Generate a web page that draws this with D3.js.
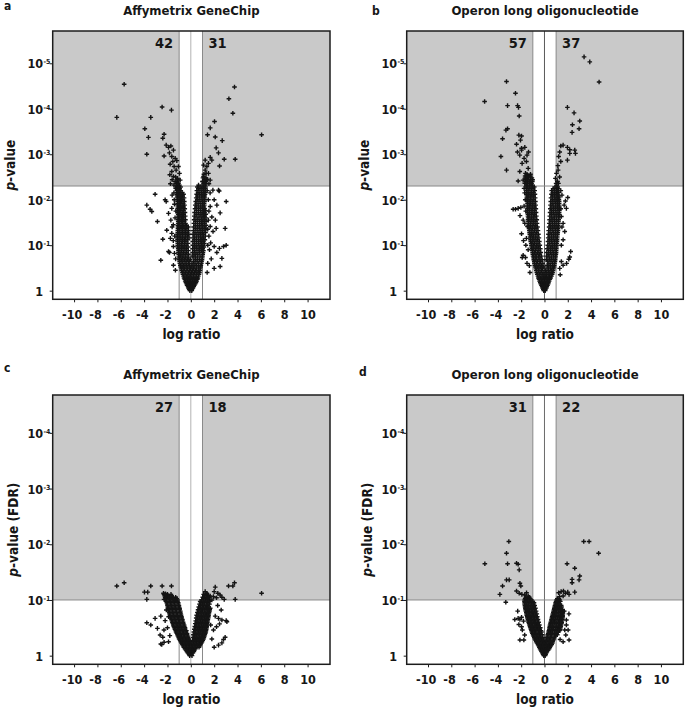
<!DOCTYPE html>
<html>
<head>
<meta charset="utf-8">
<script src="https://cdn.jsdelivr.net/npm/d3@7"></script>
<style>
    body { margin: 0; background: #fff; }
    svg text { font-family: "DejaVu Sans Condensed", "DejaVu Sans", sans-serif; font-weight: bold; fill: #161616; }
</style>
</head>
<body>
<div id="chart"></div>
<script>
width = 685;
height = 710;

//////// Data ////////
const panelLetters = ['a', 'b', 'c', 'd'];
const panelTitles = ['Affymetrix GeneChip', 'Operon long oligonucleotide', 'Affymetrix GeneChip', 'Operon long oligonucleotide'];
const yAxisTitles = ['-value', '-value', '-value (FDR)', '-value (FDR)'];
const downCounts = [42, 57, 27, 31];
const upCounts = [31, 37, 18, 22];
const pCutoffs = [0.005, 0.005, 0.1, 0.1];
const ratioCutoff = 1;
const xTicks = [-10, -8, -6, -4, -2, 0, 2, 4, 6, 8, 10];
const rawTicks = [0, 1, 2, 3, 4, 5];   // -log10 p
const fdrTicks = [0, 1, 2, 3, 4];

// dense part of each cloud: [ -log10 p, [log ratios] ]
const affyRawCore = [
    [0.00, [-0.08, 0.08]],
    [0.06, [-0.2, 0.0, 0.18]],
    [0.12, [-0.32, -0.1, 0.12, 0.3]],
    [0.18, [-0.42, -0.2, 0.02, 0.24, 0.44]],
    [0.25, [-0.52, -0.3, -0.08, 0.14, 0.36, 0.56]],
    [0.32, [-0.62, -0.38, -0.14, 0.1, 0.36, 0.64]],
    [0.40, [-0.72, -0.46, -0.2, 0.06, 0.3, 0.52, 0.74]],
    [0.48, [-0.82, -0.56, -0.3, -0.04, 0.22, 0.48, 0.8]],
    [0.56, [-0.9, -0.62, -0.36, -0.1, 0.2, 0.5, 0.86]],
    [0.64, [-0.96, -0.68, -0.4, -0.14, 0.24, 0.54, 0.92]],
    [0.72, [-1.0, -0.72, -0.44, -0.18, 0.26, 0.58, 0.98]],
    [0.80, [-1.04, -0.76, -0.48, -0.2, 0.28, 0.6, 1.02]],
    [0.88, [-1.06, -0.78, -0.5, -0.22, 0.3, 0.62, 0.9, 1.08]],
    [0.96, [-1.1, -0.8, -0.52, -0.24, 0.3, 0.62, 0.9, 1.12]],
    [1.04, [-1.12, -0.82, -0.54, -0.26, 0.32, 0.64, 0.92, 1.16]],
    [1.12, [-1.14, -0.84, -0.56, -0.28, 0.32, 0.66, 0.94, 1.2]],
    [1.20, [-1.14, -0.86, -0.58, -0.3, 0.34, 0.68, 0.96, 1.24]],
    [1.28, [-1.12, -0.84, -0.58, -0.32, 0.36, 0.7, 0.98, 1.26]],
    [1.36, [-1.1, -0.84, -0.58, -0.34, 0.38, 0.72, 1.0, 1.28]],
    [1.44, [-1.1, -0.84, -0.6, -0.36, 0.4, 0.74, 1.02, 1.3]],
    [1.52, [-1.08, -0.82, -0.58, 0.42, 0.76, 1.04, 1.3]],
    [1.60, [-1.08, -0.82, -0.6, 0.44, 0.78, 1.06, 1.3]],
    [1.68, [-1.08, -0.84, -0.62, 0.46, 0.8, 1.08, 1.28]],
    [1.76, [-1.1, -0.86, -0.64, 0.48, 0.82, 1.1, 1.26]],
    [1.84, [-1.1, -0.86, -0.64, 0.5, 0.84, 1.12]],
    [1.92, [-1.12, -0.88, -0.66, 0.52, 0.86, 1.14]],
    [2.00, [-1.14, -0.9, -0.68, 0.55, 0.88, 1.16]],
    [2.08, [-1.16, -0.92, -0.7, 0.58, 0.9, 1.18]],
    [2.16, [-1.18, -0.94, -0.74, 0.62, 0.92, 1.2]],
    [2.24, [-1.2, -0.96, 0.64, 0.94, 1.22]],
    [2.32, [-1.22, -0.98, 0.66, 0.96, 1.24]],
    [2.40, [-1.18, 1.0, 1.28]],
    [2.48, [1.04, 1.3]],
    [2.56, [1.12]],
    [0.03, [-0.14, 0.1]],
    [0.09, [-0.24, -0.05, 0.08, 0.25]],
    [0.15, [-0.36, -0.15, 0.05, 0.22, 0.38]],
    [0.21, [-0.48, -0.28, -0.06, 0.14, 0.34, 0.5]],
    [0.28, [-0.58, -0.36, -0.2, 0.02, 0.24, 0.46, 0.6]],
    [0.36, [-0.68, -0.5, -0.26, -0.02, 0.22, 0.48, 0.7]],
    [0.44, [-0.78, -0.6, -0.34, -0.1, 0.14, 0.4, 0.64, 0.78]],
    [0.52, [-0.86, -0.68, -0.42, -0.16, 0.08, 0.34, 0.64, 0.84]],
    [0.60, [-0.94, -0.76, -0.5, -0.22, 0.1, 0.36, 0.68, 0.9]],
    [0.68, [-0.98, -0.82, -0.56, -0.28, -0.04, 0.4, 0.74, 0.96]],
    [0.76, [-1.02, -0.88, -0.6, -0.32, 0.12, 0.42, 0.78, 1.0]],
    [0.84, [-1.06, -0.92, -0.64, -0.36, 0.16, 0.44, 0.76, 1.04]],
    [0.92, [-1.08, -0.94, -0.66, -0.38, 0.16, 0.46, 0.76, 1.02]],
    [1.00, [-1.12, -0.96, -0.68, -0.4, 0.18, 0.46, 0.78, 1.04]],
    [1.08, [-1.14, -0.98, -0.7, -0.42, 0.18, 0.48, 0.8, 1.06]],
    [1.16, [-1.16, -1.0, -0.72, -0.44, -0.16, 0.2, 0.5, 0.82, 1.08]],
    [1.24, [-1.14, -1.0, -0.72, -0.44, -0.18, 0.2, 0.52, 0.84, 1.1]],
    [1.32, [-1.12, -0.98, -0.72, -0.46, -0.2, 0.22, 0.54, 0.86, 1.14]],
    [1.40, [-1.1, -0.96, -0.72, -0.48, -0.22, 0.24, 0.56, 0.88, 1.16]],
    [1.48, [-1.08, -0.96, -0.72, -0.46, 0.26, 0.58, 0.9, 1.16]],
    [1.56, [-1.08, -0.94, -0.7, -0.46, 0.28, 0.6, 0.92, 1.18]],
    [1.64, [-1.08, -0.96, -0.72, -0.48, 0.3, 0.62, 0.94, 1.18]],
    [1.72, [-1.1, -0.98, -0.74, -0.5, 0.32, 0.64, 0.96, 1.16]],
    [1.80, [-1.12, -0.98, -0.76, -0.52, 0.36, 0.66, 0.98, 1.18]],
    [1.88, [-1.12, -1.0, -0.76, -0.54, 0.38, 0.68, 1.0, 1.16]],
    [1.96, [-1.14, -1.0, -0.78, -0.56, 0.42, 0.7, 1.02, 1.18]],
    [2.04, [-1.16, -1.02, -0.8, -0.58, 0.46, 0.72, 1.04, 1.2]],
    [2.12, [-1.18, -1.06, -0.84, -0.62, 0.5, 0.76, 1.06, 1.22]],
    [2.20, [-1.2, -1.08, -0.86, 0.52, 0.78, 1.08, 1.24]],
    [2.28, [-1.22, -1.1, -0.88, 0.56, 0.8, 1.1, 1.26]],
    [2.36, [-1.24, -1.1, 1.12, 1.3]],
    [2.44, [-1.14, 1.16, 1.32]]
];
// scattered genes: [log ratio, -log10 p]
const affyRawSpread = [
    [-5.71, 4.54], [-6.34, 3.81], [-2.46, 4.04], [-1.66, 3.97], [-3.43, 3.81], [-3.94, 3.56], [-3.63, 3.37],
    [-3.77, 3.0], [-2.29, 3.44], [-2.4, 3.35], [-2.11, 3.2], [-1.91, 3.15], [-1.71, 3.18], [-1.49, 3.09],
    [-2.29, 2.96], [-1.83, 3.03], [-1.63, 2.95], [-1.34, 2.91], [-1.54, 2.84], [-1.2, 2.86], [-1.77, 2.78],
    [-1.43, 2.73], [-1.06, 2.73], [-1.26, 2.65], [-1.63, 2.62], [-0.97, 2.58], [-1.49, 2.51], [-1.14, 2.47],
    [-0.91, 2.43], [-1.34, 2.4], [-1.06, 2.36], [-1.8, 2.55], [-1.6, 2.44], [-1.45, 2.32], [-1.3, 2.5], [-1.75, 2.35],
    [3.74, 4.48], [3.26, 4.22], [3.6, 3.9], [2.03, 3.72], [1.66, 3.58], [1.43, 3.43], [2.09, 3.38], [2.69, 3.3],
    [6.06, 3.43], [2.17, 3.14], [2.37, 3.03], [2.86, 2.89], [3.8, 2.89], [1.8, 2.87], [1.66, 2.93], [1.51, 2.8],
    [2.46, 2.74], [1.37, 2.73], [1.23, 2.65], [1.31, 2.58], [1.09, 2.51], [1.51, 2.58], [1.66, 2.43], [1.23, 2.87],
    [1.09, 2.76], [1.4, 2.45], [1.2, 2.38], [1.03, 2.4], [1.55, 2.35],
    [-3.06, 2.12], [-3.77, 1.88], [-2.2, 2.0], [-2.11, 1.96], [-3.49, 1.79], [-3.34, 1.74], [-2.86, 1.52],
    [-1.63, 1.81], [-1.91, 1.7], [-1.71, 1.55], [-1.5, 1.45], [-2.06, 1.33], [-1.63, 1.26], [-2.4, 1.13],
    [-1.91, 0.86], [-1.49, 0.97], [-1.4, 0.82], [-2.57, 0.67], [-1.49, 0.56], [-1.83, 0.84], [-1.35, 1.6],
    [-1.4, 1.9], [-1.45, 2.15], [-1.6, 2.1], [-1.3, 0.7], [-1.38, 1.2], [-1.5, 1.1], [-1.75, 1.15], [-1.42, 2.0],
    [-1.3, 2.25], [-1.28, 1.75], [-1.32, 0.45], [-1.6, 1.4],
    [2.43, 2.19], [1.89, 2.21], [2.37, 2.21], [2.0, 2.0], [2.23, 1.88], [3.03, 1.96], [2.51, 1.71], [1.66, 1.85],
    [1.8, 1.62], [1.5, 1.55], [2.17, 1.37], [1.66, 1.41], [1.9, 1.3], [3.03, 1.0], [2.8, 0.97], [2.45, 0.93],
    [2.0, 0.97], [2.66, 0.71], [2.23, 0.84], [2.0, 0.49], [2.51, 0.53], [2.94, 1.37], [1.55, 1.2], [1.6, 0.9],
    [1.45, 0.6], [1.7, 1.05], [1.5, 2.0], [1.55, 1.75], [1.45, 1.35], [1.75, 0.7], [2.1, 1.55], [1.4, 2.2],
    [1.45, 1.0], [1.4, 0.4], [1.65, 2.15]
];

const operonRawCore = [
    [0.00, [-0.06, 0.06]],
    [0.06, [-0.16, 0.0, 0.16]],
    [0.12, [-0.26, -0.08, 0.1, 0.26]],
    [0.18, [-0.36, -0.14, 0.08, 0.34]],
    [0.25, [-0.46, -0.22, 0.02, 0.24, 0.46]],
    [0.32, [-0.56, -0.3, -0.06, 0.18, 0.42, 0.6]],
    [0.40, [-0.66, -0.38, -0.12, 0.2, 0.46, 0.7]],
    [0.48, [-0.74, -0.46, -0.18, 0.22, 0.5, 0.78]],
    [0.56, [-0.82, -0.54, -0.26, 0.24, 0.52, 0.84]],
    [0.64, [-0.88, -0.6, -0.32, 0.28, 0.56, 0.9]],
    [0.72, [-0.94, -0.66, -0.38, 0.3, 0.6, 0.94]],
    [0.80, [-1.0, -0.72, -0.44, 0.32, 0.64, 0.98]],
    [0.88, [-1.04, -0.76, -0.48, 0.36, 0.66, 1.0]],
    [0.96, [-1.1, -0.8, -0.52, 0.38, 0.68, 1.02]],
    [1.04, [-1.14, -0.86, -0.56, 0.42, 0.72, 1.06]],
    [1.12, [-1.2, -0.9, -0.6, 0.44, 0.74, 1.08]],
    [1.20, [-1.24, -0.94, -0.64, 0.46, 0.76, 1.1]],
    [1.28, [-1.28, -0.98, -0.68, 0.48, 0.8, 1.14]],
    [1.36, [-1.32, -1.02, -0.72, 0.52, 0.82, 1.16]],
    [1.44, [-1.36, -1.06, -0.76, 0.54, 0.84, 1.18]],
    [1.52, [-1.38, -1.08, -0.8, 0.56, 0.86, 1.2]],
    [1.60, [-1.4, -1.1, -0.82, 0.58, 0.88, 1.22]],
    [1.68, [-1.42, -1.12, -0.84, 0.6, 0.9, 1.24]],
    [1.76, [-1.44, -1.14, -0.86, 0.62, 0.92, 1.26]],
    [1.84, [-1.44, -1.16, -0.88, 0.64, 0.94, 1.26]],
    [1.92, [-1.46, -1.18, -0.9, 0.66, 0.96, 1.26]],
    [2.00, [-1.48, -1.2, -0.92, 0.68, 0.98, 1.24]],
    [2.08, [-1.5, -1.22, -0.94, 0.7, 1.0, 1.24]],
    [2.16, [-1.52, -1.24, -0.96, 0.72, 1.02, 1.22]],
    [2.24, [-1.54, -1.26, -0.98, 0.74, 1.04, 1.2]],
    [2.32, [-1.56, -1.28, -1.02, 1.06]],
    [2.40, [-1.6, -1.32, -1.04, 1.1]],
    [2.48, [-1.64, -1.36, -1.08]],
    [2.56, [-1.5, -1.2]],
    [0.03, [-0.1, 0.08]],
    [0.09, [-0.2, -0.02, 0.2]],
    [0.15, [-0.32, -0.14, 0.02, 0.18, 0.32]],
    [0.21, [-0.42, -0.24, -0.04, 0.2, 0.4]],
    [0.28, [-0.52, -0.34, -0.12, 0.1, 0.32, 0.52]],
    [0.36, [-0.62, -0.44, -0.2, 0.06, 0.32, 0.58, 0.66]],
    [0.44, [-0.7, -0.52, -0.26, 0.08, 0.34, 0.6, 0.74]],
    [0.52, [-0.78, -0.6, -0.32, -0.06, 0.36, 0.66, 0.82]],
    [0.60, [-0.86, -0.68, -0.4, -0.14, 0.38, 0.7, 0.86]],
    [0.68, [-0.92, -0.74, -0.46, -0.2, 0.16, 0.44, 0.74, 0.92]],
    [0.76, [-0.98, -0.8, -0.52, -0.26, 0.18, 0.46, 0.78, 0.96]],
    [0.84, [-1.02, -0.86, -0.58, -0.32, 0.2, 0.5, 0.8, 1.0]],
    [0.92, [-1.08, -0.92, -0.64, -0.36, 0.24, 0.52, 0.82, 1.02]],
    [1.00, [-1.12, -0.96, -0.68, -0.4, 0.28, 0.56, 0.86, 1.04]],
    [1.08, [-1.18, -1.0, -0.72, -0.44, 0.3, 0.58, 0.88, 1.08]],
    [1.16, [-1.22, -1.04, -0.76, -0.48, 0.32, 0.6, 0.9, 1.1]],
    [1.24, [-1.26, -1.1, -0.8, -0.52, 0.34, 0.62, 0.92, 1.12]],
    [1.32, [-1.3, -1.14, -0.84, -0.56, 0.36, 0.66, 0.96, 1.16]],
    [1.40, [-1.34, -1.18, -0.88, -0.6, 0.4, 0.68, 0.98, 1.18]],
    [1.48, [-1.38, -1.22, -0.92, -0.64, 0.42, 0.7, 1.0, 1.2]],
    [1.56, [-1.4, -1.24, -0.94, -0.66, 0.44, 0.72, 1.04, 1.22]],
    [1.64, [-1.42, -1.26, -0.96, -0.7, 0.46, 0.74, 1.06, 1.24]],
    [1.72, [-1.44, -1.28, -1.0, -0.72, 0.48, 0.76, 1.08, 1.26]],
    [1.80, [-1.46, -1.3, -1.02, -0.74, 0.5, 0.78, 1.1, 1.26]],
    [1.88, [-1.46, -1.3, -1.04, -0.76, 0.52, 0.8, 1.1, 1.26]],
    [1.96, [-1.48, -1.32, -1.06, -0.78, 0.54, 0.82, 1.1, 1.26]],
    [2.04, [-1.5, -1.34, -1.08, -0.8, 0.56, 0.84, 1.12, 1.24]],
    [2.12, [-1.52, -1.36, -1.1, -0.82, 0.6, 0.86, 1.12]],
    [2.20, [-1.54, -1.4, -1.12, -0.84, 0.62, 0.88, 1.12]],
    [2.28, [-1.56, -1.42, -1.14, -0.88, 0.9, 1.14]],
    [2.36, [-1.58, -1.44, -1.16, 1.0, 1.2]],
    [2.44, [-1.62, -1.48, -1.2, -1.02]],
    [2.52, [-1.66, -1.5, -1.24]]
];
const operonRawSpread = [
    [-3.26, 4.6], [-2.49, 4.34], [-5.14, 4.16], [-3.17, 4.07], [-2.31, 4.07], [-2.23, 4.03], [-2.17, 3.84],
    [-3.17, 3.56], [-3.31, 3.53], [-3.6, 3.34], [-2.2, 3.42], [-1.97, 3.4], [-2.06, 3.31], [-2.4, 3.22],
    [-1.97, 3.13], [-1.69, 3.15], [-3.74, 2.95], [-3.26, 2.65], [-2.32, 3.05], [-1.97, 3.09], [-2.12, 2.98],
    [-1.75, 2.91], [-1.55, 2.84], [-1.92, 2.8], [-2.12, 2.62], [-1.4, 2.69], [-1.63, 2.58], [-2.26, 2.41],
    [-1.83, 2.43], [-1.55, 2.47], [-1.4, 2.52], [-1.26, 2.4], [-1.12, 2.36], [-1.69, 2.36], [-1.37, 3.05], [-1.5, 2.98],
    [3.4, 5.14], [3.89, 5.03], [4.69, 4.59], [1.97, 4.03], [2.54, 3.91], [3.03, 3.73], [2.4, 3.65], [2.97, 3.56],
    [2.37, 3.48], [1.4, 3.18], [1.6, 3.2], [1.97, 3.15], [2.17, 3.1], [2.6, 3.09], [2.66, 3.02], [2.17, 3.02],
    [1.97, 2.87], [1.31, 3.05], [1.22, 2.95], [1.4, 2.84], [1.17, 2.65], [1.03, 2.58], [0.94, 2.47], [1.11, 2.4],
    [1.15, 2.75], [1.3, 2.5],
    [-2.49, 1.79], [-2.69, 1.79], [-2.26, 1.81], [-2.03, 1.83], [-1.75, 1.86], [-1.6, 1.75], [-1.83, 1.55],
    [-1.69, 1.48], [-1.46, 1.41], [-1.97, 1.25], [-1.55, 1.15], [-1.83, 0.78], [-1.63, 0.73], [-1.91, 0.73],
    [-1.5, 0.6], [-1.6, 1.0], [-1.65, 2.0], [-1.7, 2.15], [-1.3, 0.55], [-2.1, 1.65], [-1.4, 0.9], [-1.75, 2.25],
    [-1.8, 1.1], [-1.25, 0.4],
    [1.69, 1.88], [1.88, 1.81], [1.8, 1.97], [1.45, 1.63], [1.6, 1.48], [1.74, 1.3], [1.6, 1.12], [2.25, 0.86],
    [2.17, 0.74], [2.09, 0.69], [1.45, 0.64], [1.31, 0.49], [1.6, 0.56], [1.9, 0.6], [1.5, 2.1], [1.45, 1.0],
    [1.5, 1.4], [1.4, 2.2], [2.0, 2.05], [1.4, 1.8], [1.35, 0.35]
];

const affyFdrCore = [
    [0.00, [-0.1, 0.1]],
    [0.05, [-0.26, -0.04, 0.18]],
    [0.10, [-0.42, -0.18, 0.06, 0.3]],
    [0.15, [-0.6, -0.34, -0.08, 0.18, 0.44, 0.7]],
    [0.20, [-0.72, -0.46, -0.2, 0.08, 0.34, 0.6, 0.82]],
    [0.25, [-0.86, -0.58, -0.32, -0.08, 0.22, 0.48, 0.74, 0.96]],
    [0.30, [-1.0, -0.72, -0.44, -0.18, 0.3, 0.56, 0.84, 1.08]],
    [0.35, [-1.1, -0.82, -0.54, -0.26, 0.34, 0.62, 0.9, 1.16]],
    [0.40, [-1.2, -0.92, -0.62, -0.32, 0.36, 0.66, 0.96, 1.24]],
    [0.45, [-1.3, -1.0, -0.7, -0.38, 0.4, 0.7, 1.0, 1.3]],
    [0.50, [-1.4, -1.1, -0.8, -0.5, 0.44, 0.74, 1.04, 1.34]],
    [0.55, [-1.5, -1.2, -0.9, -0.58, 0.48, 0.78, 1.08, 1.38]],
    [0.60, [-1.58, -1.28, -0.98, -0.66, 0.52, 0.82, 1.12, 1.42]],
    [0.65, [-1.66, -1.36, -1.04, -0.72, 0.56, 0.86, 1.16, 1.46]],
    [0.70, [-1.74, -1.44, -1.12, -0.8, 0.6, 0.9, 1.2, 1.5]],
    [0.75, [-1.82, -1.5, -1.18, -0.86, 0.64, 0.94, 1.24, 1.54]],
    [0.80, [-1.88, -1.56, -1.24, -0.9, 0.7, 1.0, 1.3, 1.6]],
    [0.85, [-1.94, -1.62, -1.3, -0.96, 0.76, 1.06, 1.36, 1.66]],
    [0.90, [-2.0, -1.68, -1.36, -1.02, 0.82, 1.12, 1.42]],
    [0.95, [-2.06, -1.74, -1.42, -1.08, 0.88, 1.18, 1.48]],
    [1.00, [-2.12, -1.8, -1.48, -1.14, 0.94, 1.24, 1.56]],
    [1.05, [-2.2, -1.9, -1.6, -1.3, 1.02, 1.3, 1.6]],
    [1.10, [-2.3, -2.0, -1.7, 1.1, 1.4]],
    [0.025, [-0.16, 0.04]],
    [0.075, [-0.34, -0.1, 0.12, 0.26]],
    [0.125, [-0.5, -0.26, 0.0, 0.22, 0.4]],
    [0.175, [-0.66, -0.4, -0.14, 0.1, 0.32, 0.56, 0.76]],
    [0.225, [-0.8, -0.54, -0.28, -0.04, 0.22, 0.46, 0.7, 0.9]],
    [0.275, [-0.92, -0.66, -0.4, -0.14, 0.16, 0.42, 0.68, 0.94, 1.02]],
    [0.325, [-1.04, -0.78, -0.5, -0.24, 0.2, 0.46, 0.74, 1.0, 1.12]],
    [0.375, [-1.14, -0.88, -0.6, -0.32, 0.22, 0.5, 0.78, 1.04, 1.2]],
    [0.425, [-1.26, -0.98, -0.7, -0.42, 0.26, 0.54, 0.82, 1.1, 1.28]],
    [0.475, [-1.36, -1.06, -0.78, -0.5, 0.3, 0.58, 0.86, 1.14, 1.32]],
    [0.525, [-1.46, -1.16, -0.86, -0.56, 0.34, 0.62, 0.9, 1.2, 1.36]],
    [0.575, [-1.54, -1.24, -0.94, -0.64, 0.38, 0.66, 0.94, 1.24, 1.4]],
    [0.625, [-1.62, -1.32, -1.02, -0.72, 0.42, 0.7, 0.98, 1.28, 1.44]],
    [0.675, [-1.7, -1.4, -1.08, -0.78, 0.46, 0.74, 1.04, 1.32, 1.48]],
    [0.725, [-1.78, -1.46, -1.16, -0.84, 0.5, 0.78, 1.08, 1.36, 1.52]],
    [0.775, [-1.84, -1.54, -1.22, -0.9, 0.56, 0.84, 1.14, 1.42, 1.56]],
    [0.825, [-1.9, -1.6, -1.28, -0.96, 0.62, 0.9, 1.2, 1.48, 1.62]],
    [0.875, [-1.96, -1.66, -1.34, -1.02, 0.68, 0.96, 1.26, 1.54]],
    [0.925, [-2.02, -1.72, -1.4, -1.08, 0.74, 1.02, 1.32, 1.6]],
    [0.975, [-2.1, -1.78, -1.46, -1.14, 0.8, 1.08, 1.38, 1.62]],
    [1.025, [-2.16, -1.84, -1.52, -1.2, 1.1, 1.42]],
    [1.075, [-2.24, -1.94, -1.64, 1.2, 1.5]]
];
const affyFdrSpread = [
    [-6.34, 1.25], [-5.71, 1.31], [-3.43, 1.25], [-2.46, 1.25], [-1.66, 1.25], [-3.97, 1.14], [-3.69, 1.14],
    [-3.77, 1.01], [-2.34, 1.12], [-2.17, 1.11], [-2.06, 1.09], [-1.91, 1.07], [-1.77, 1.05], [-1.63, 1.06],
    [-1.49, 1.03], [-2.29, 1.01], [-1.8, 1.01], [-1.34, 1.0],
    [2.09, 1.23], [3.23, 1.25], [3.6, 1.25], [3.74, 1.31], [6.06, 1.12], [3.8, 1.01], [2.86, 1.01], [2.51, 1.09],
    [2.31, 1.12], [2.66, 1.05], [1.37, 1.12], [1.66, 1.07], [1.51, 1.03], [1.94, 1.06], [1.23, 1.15], [2.0, 1.15],
    [2.2, 1.04], [1.8, 1.0],
    [-3.77, 0.59], [-3.43, 0.55], [-3.06, 0.67], [-2.86, 0.49], [-2.57, 0.71], [-2.2, 0.63], [-2.63, 0.37],
    [-2.4, 0.33], [-2.57, 0.21], [-1.91, 0.25], [-2.3, 0.46], [-2.0, 0.5], [-1.8, 0.36], [-2.1, 0.82], [-1.9, 0.7],
    [-2.29, 0.24], [-2.49, 0.2],
    [2.09, 0.71], [2.37, 0.67], [3.03, 0.63], [2.46, 0.57], [2.2, 0.52], [2.8, 0.29], [2.94, 0.33], [2.66, 0.23],
    [2.0, 0.15], [2.37, 0.19], [1.94, 0.46], [2.6, 0.82], [2.3, 0.9], [1.8, 0.3], [1.7, 0.55], [3.09, 0.61],
    [2.66, 0.64]
];

const operonFdrCore = [
    [0.00, [-0.06, 0.06]],
    [0.05, [-0.18, 0.0, 0.16]],
    [0.10, [-0.32, -0.1, 0.12, 0.32]],
    [0.15, [-0.44, -0.2, 0.04, 0.26, 0.46]],
    [0.20, [-0.56, -0.3, -0.06, 0.18, 0.42, 0.62]],
    [0.25, [-0.7, -0.44, -0.18, 0.12, 0.4, 0.7]],
    [0.30, [-0.82, -0.54, -0.26, 0.2, 0.48, 0.8]],
    [0.35, [-0.94, -0.66, -0.36, 0.26, 0.56, 0.9]],
    [0.40, [-1.04, -0.76, -0.46, 0.32, 0.64, 1.0]],
    [0.45, [-1.12, -0.84, -0.54, -0.3, 0.38, 0.7, 1.08, 1.3]],
    [0.50, [-1.2, -0.92, -0.62, -0.36, 0.44, 0.76, 1.14, 1.36]],
    [0.55, [-1.28, -1.0, -0.7, -0.44, 0.48, 0.82, 1.18, 1.42]],
    [0.60, [-1.36, -1.06, -0.78, -0.5, 0.54, 0.88, 1.22, 1.48]],
    [0.65, [-1.42, -1.12, -0.84, -0.56, 0.6, 0.92, 1.26, 1.52]],
    [0.70, [-1.48, -1.18, -0.9, -0.62, 0.66, 0.96, 1.3, 1.56]],
    [0.75, [-1.54, -1.24, -0.94, -0.66, 0.72, 1.0, 1.34, 1.58]],
    [0.80, [-1.6, -1.3, -1.0, -0.72, 0.78, 1.06, 1.38, 1.6]],
    [0.85, [-1.64, -1.34, -1.04, -0.78, 0.84, 1.12, 1.42]],
    [0.90, [-1.68, -1.38, -1.08, -0.84, 0.9, 1.18, 1.44]],
    [0.95, [-1.7, -1.4, -1.12, -0.9, 0.96, 1.24]],
    [1.00, [-1.7, -1.42, -1.16, 1.04, 1.3]],
    [1.05, [-1.6, -1.3]],
    [0.025, [-0.12, 0.1]],
    [0.075, [-0.26, -0.06, 0.08, 0.22]],
    [0.125, [-0.38, -0.16, 0.06, 0.24, 0.4]],
    [0.175, [-0.5, -0.28, -0.08, 0.14, 0.34, 0.54]],
    [0.225, [-0.64, -0.4, -0.16, 0.06, 0.3, 0.52, 0.68]],
    [0.275, [-0.76, -0.5, -0.26, -0.06, 0.16, 0.44, 0.74]],
    [0.325, [-0.88, -0.6, -0.34, -0.14, 0.22, 0.52, 0.84]],
    [0.375, [-0.98, -0.7, -0.44, -0.2, 0.28, 0.6, 0.94, 1.1]],
    [0.425, [-1.08, -0.8, -0.5, -0.26, 0.36, 0.54, 0.86, 1.18]],
    [0.475, [-1.16, -0.98, -0.7, -0.42, 0.42, 0.6, 0.92, 1.22, 1.34]],
    [0.525, [-1.24, -1.06, -0.78, -0.5, 0.46, 0.64, 0.98, 1.26, 1.4]],
    [0.575, [-1.32, -1.14, -0.86, -0.58, 0.52, 0.7, 1.04, 1.32, 1.46]],
    [0.625, [-1.4, -1.2, -0.92, -0.64, 0.58, 0.76, 1.08, 1.36, 1.5]],
    [0.675, [-1.46, -1.26, -0.98, -0.7, 0.64, 0.8, 1.12, 1.4, 1.54]],
    [0.725, [-1.52, -1.32, -1.04, -0.76, 0.7, 0.84, 1.16, 1.44, 1.56]],
    [0.775, [-1.56, -1.38, -1.1, -0.82, 0.76, 0.9, 1.2, 1.48, 1.58]],
    [0.825, [-1.62, -1.44, -1.16, -0.88, 0.82, 0.96, 1.26, 1.52]],
    [0.875, [-1.66, -1.48, -1.2, -0.92, 0.88, 1.02, 1.3, 1.46]],
    [0.925, [-1.7, -1.52, -1.24, -0.96, 0.94, 1.08, 1.34]],
    [0.975, [-1.72, -1.54, -1.28, -1.0, 1.0, 1.16, 1.36]],
    [1.025, [-1.66, -1.48, -1.22, 1.1, 1.24]]
];
const operonFdrSpread = [
    [-3.06, 2.05], [3.37, 2.05], [3.83, 2.05], [-3.26, 1.84], [-5.12, 1.65], [-3.17, 1.65], [-2.4, 1.66],
    [-2.26, 1.64], [-2.17, 1.54], [4.65, 1.84], [1.94, 1.65], [2.6, 1.57], [3.03, 1.43], [2.97, 1.36],
    [2.37, 1.37], [2.37, 1.31], [-3.26, 1.36], [-3.03, 1.36], [-3.6, 1.25], [-2.11, 1.3], [-2.03, 1.25],
    [-3.83, 1.1], [-2.4, 1.16], [-2.17, 1.12], [-1.94, 1.1], [-1.69, 1.09], [-1.54, 1.13], [-1.4, 1.07],
    [-3.32, 0.96], [1.22, 1.13], [1.43, 1.15], [1.63, 1.16], [1.8, 1.12], [2.0, 1.14], [2.6, 1.14], [2.11, 1.1],
    [1.3, 1.06], [1.6, 1.07],
    [-2.55, 0.65], [-2.26, 0.67], [-2.11, 0.65], [-1.97, 0.69], [-1.8, 0.62], [-1.97, 0.52], [-1.9, 0.46],
    [-1.7, 0.37], [-1.77, 0.28], [-2.2, 0.56], [-2.3, 0.8], [-2.11, 0.28],
    [1.88, 0.64], [1.88, 0.55], [1.74, 0.46], [2.03, 0.46], [1.83, 0.37], [1.6, 0.25], [1.34, 0.29], [2.1, 0.75],
    [1.7, 0.8], [2.11, 0.28]
];

const panelCores = [affyRawCore, operonRawCore, affyFdrCore, operonFdrCore];
const panelSpreads = [affyRawSpread, operonRawSpread, affyFdrSpread, operonFdrSpread];

//////// Layout ////////
const xDomain = [-11.83, 11.92];
const layouts = [
    {x0: 52.7, x1: 330, y0: 31, y1: 299.3, yDom: [-0.19, 5.71], ticks: rawTicks, letterX: 4, letterY: 10, titleOff: 38, zeroColor: '#b2b2b2'},
    {x0: 406.7, x1: 683.3, y0: 31, y1: 299.3, yDom: [-0.19, 5.71], ticks: rawTicks, letterX: 372, letterY: 15, titleOff: 38, zeroColor: '#5a5a5a'},
    {x0: 52.7, x1: 330, y0: 395, y1: 664.3, yDom: [-0.155, 4.68], ticks: fdrTicks, letterX: 4, letterY: 372, titleOff: 34.5, zeroColor: '#b2b2b2'},
    {x0: 406.7, x1: 683.3, y0: 395, y1: 664.3, yDom: [-0.155, 4.68], ticks: fdrTicks, letterX: 359, letterY: 376, titleOff: 34.5, zeroColor: '#6a6a6a'}
];

const svg = d3.select('#chart')
    .append('svg')
    .attr('width', width)
    .attr('height', height);

const plusPath = 'M-2.3,0H2.3M0,-2.3V2.3';

panelLetters.forEach((letter, i) => {
    const L = layouts[i];
    const g = svg.append('g').attr('class', 'panel');

    const xScale = d3.scaleLinear().domain(xDomain).range([L.x0, L.x1]);
    const yScale = d3.scaleLinear().domain(L.yDom).range([L.y1, L.y0]);
    const yCut = yScale(-Math.log10(pCutoffs[i]));

    // shaded "significant" area and the white band around 0
    g.append('rect')
        .attr('x', L.x0).attr('y', L.y0)
        .attr('width', L.x1 - L.x0).attr('height', yCut - L.y0)
        .attr('fill', '#c9c9c9');
    g.append('rect')
        .attr('x', xScale(-ratioCutoff)).attr('y', L.y0)
        .attr('width', xScale(ratioCutoff) - xScale(-ratioCutoff)).attr('height', yCut - L.y0)
        .attr('fill', '#fff');

    // cut-off lines
    [-ratioCutoff, ratioCutoff].forEach(r => {
        g.append('line')
            .attr('x1', xScale(r)).attr('x2', xScale(r))
            .attr('y1', L.y0).attr('y2', L.y1)
            .attr('stroke', '#8a8a8a').attr('stroke-width', 1);
    });
    g.append('line')
        .attr('x1', xScale(0)).attr('x2', xScale(0))
        .attr('y1', L.y0).attr('y2', L.y1)
        .attr('stroke', L.zeroColor).attr('stroke-width', 1);
    g.append('line')
        .attr('x1', L.x0).attr('x2', L.x1)
        .attr('y1', yCut).attr('y2', yCut)
        .attr('stroke', '#8a8a8a').attr('stroke-width', 1);

    // genes
    const points = panelCores[i]
        .flatMap(([v, ratios]) => ratios.map(r => [r, v]))
        .concat(panelSpreads[i]);

    g.append('g')
        .selectAll('path')
        .data(points)
        .join('path')
        .attr('d', plusPath)
        .attr('transform', d => `translate(${xScale(d[0])},${yScale(d[1])})`)
        .attr('stroke', '#141414')
        .attr('stroke-width', 1.4)
        .attr('fill', 'none');

    // frame
    g.append('rect')
        .attr('x', L.x0).attr('y', L.y0)
        .attr('width', L.x1 - L.x0).attr('height', L.y1 - L.y0)
        .attr('fill', 'none')
        .attr('stroke', '#1c1c1c')
        .attr('stroke-width', 1.5);

    // x axis
    const gx = g.append('g')
        .attr('transform', `translate(0,${L.y1})`)
        .call(d3.axisBottom(xScale).tickValues(xTicks).tickSize(3).tickFormat(''));
    gx.select('.domain').remove();
    gx.selectAll('.tick line').attr('stroke', '#1c1c1c');
    gx.selectAll('.tick').each(function(d) {
        const t = d3.select(this);
        const lab = t.append('text')
            .attr('y', 19.5)
            .attr('text-anchor', 'middle')
            .attr('font-size', 12.5)
            .text(Math.abs(d));
        if (d < 0) {
            const w = lab.node().getComputedTextLength();
            t.append('text')
                .attr('x', -w / 2)
                .attr('y', 19.5)
                .attr('text-anchor', 'end')
                .attr('font-size', 12.5)
                .text('-');
        }
    });

    // y axis
    const gy = g.append('g')
        .attr('transform', `translate(${L.x0},0)`)
        .call(d3.axisLeft(yScale).tickValues(L.ticks).tickSize(3).tickFormat(''));
    gy.select('.domain').remove();
    gy.selectAll('.tick line').attr('stroke', '#1c1c1c');
    gy.selectAll('.tick').each(function(d) {
        const t = d3.select(this);
        if (d === 0) {
            t.append('text')
                .attr('x', -9.6).attr('dy', '0.36em')
                .attr('text-anchor', 'end').attr('font-size', 12.5)
                .text('1');
        } else {
            t.append('text')
                .attr('x', -9.6).attr('dy', '0.36em')
                .attr('text-anchor', 'end').attr('font-size', 12.5)
                .text('10');
            t.append('text')
                .attr('x', -9.3).attr('y', 0.5)
                .attr('text-anchor', 'start').attr('font-size', 7)
                .text('-' + d);
        }
    });

    // titles
    g.append('text')
        .attr('x', (L.x0 + L.x1) / 2).attr('y', L.y0 - 16)
        .attr('text-anchor', 'middle').attr('font-size', 13)
        .text(panelTitles[i]);
    g.append('text')
        .attr('x', L.letterX).attr('y', L.letterY)
        .attr('font-size', 12)
        .text(letter);
    g.append('text')
        .attr('x', (L.x0 + L.x1) / 2).attr('y', L.y1 + 40)
        .attr('text-anchor', 'middle').attr('font-size', 13.5)
        .text('log ratio');
    const yt = g.append('text')
        .attr('transform', `translate(${L.x0 - L.titleOff},${(L.y0 + L.y1) / 2}) rotate(-90)`)
        .attr('text-anchor', 'middle').attr('font-size', 13.5);
    yt.append('tspan').attr('font-style', 'italic').text('p');
    yt.append('tspan').text(yAxisTitles[i]);

    // counts of significant genes
    g.append('text')
        .attr('x', xScale(-ratioCutoff) - 6).attr('y', L.y0 + 17)
        .attr('text-anchor', 'end').attr('font-size', 14.5)
        .text(downCounts[i]);
    g.append('text')
        .attr('x', xScale(ratioCutoff) + 6).attr('y', L.y0 + 17)
        .attr('text-anchor', 'start').attr('font-size', 14.5)
        .text(upCounts[i]);
});
</script>
</body>
</html>
